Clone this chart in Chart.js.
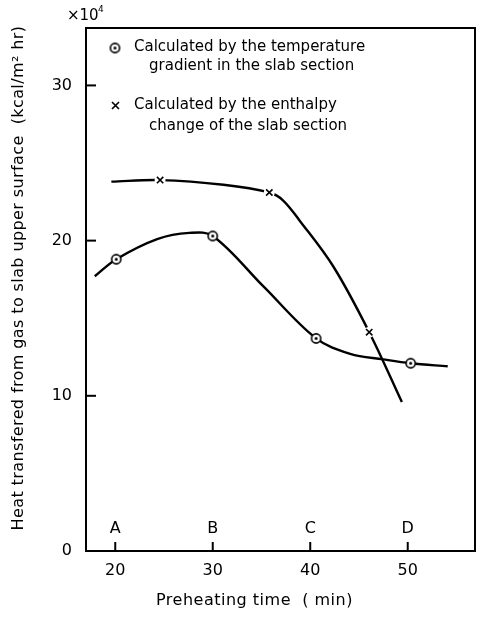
<!DOCTYPE html>
<html>
<head>
<meta charset="utf-8">
<script src="https://cdn.jsdelivr.net/npm/chart.js@4.4.1/dist/chart.umd.min.js"></script>
<style>
  html, body { margin: 0; padding: 0; background: #fff; }
</style>
</head>
<body>
<canvas id="chart" width="477" height="619"></canvas>
<script>
// values (heat in units of 10^4 kcal/m2 hr)
const stageLabels = ['A', 'B', 'C', 'D'];
const stageTimes = [20, 30, 40, 50];

// circles: from the temperature gradient in the slab section
const gradTimes = [20.1, 30.0, 40.6, 50.3];
const gradHeat = [18.8, 20.3, 13.7, 12.1];
// crosses: from the enthalpy change of the slab section
const enthTimes = [24.6, 35.8, 46.05];
const enthHeat = [23.9, 23.1, 14.1];

// hand drawn curves through the points
const gradCurveTimes = [17.9, 20.1, 24.3, 27.6, 30.0, 35.2, 40.6, 44.1, 47.5, 50.3, 54.1];
const gradCurveHeat = [17.7, 18.8, 20.1, 20.5, 20.3, 17.05, 13.7, 12.7, 12.35, 12.1, 11.9];
const enthCurveTimes = [19.6, 24.6, 31.1, 35.8, 37.2, 38.9, 42.4, 46.05, 49.4];
const enthCurveHeat = [23.8, 23.9, 23.6, 23.1, 22.6, 21.3, 18.3, 14.1, 9.6];

const FONT = '"DejaVu Sans", sans-serif';

const pts = (xs, ys) => xs.map((x, i) => ({ x: x, y: ys[i] }));

// ring with a dot in the middle, like the scan's marker
function ringMarker() {
  const c = document.createElement('canvas');
  c.width = 13; c.height = 13;
  const g = c.getContext('2d');
  g.fillStyle = '#fff';
  g.strokeStyle = '#000';
  g.lineWidth = 1.6;
  g.beginPath(); g.arc(6.5, 6.5, 4.6, 0, Math.PI * 2); g.fill(); g.stroke();
  g.fillStyle = '#000';
  g.beginPath(); g.arc(6.5, 6.5, 1.5, 0, Math.PI * 2); g.fill();
  return c;
}
const ring = ringMarker();

const decor = {
  id: 'decor',
  afterDraw(chart) {
    const ctx = chart.ctx;
    const a = chart.chartArea;
    const xs = chart.scales.x, ys = chart.scales.y;
    ctx.save();
    ctx.strokeStyle = '#000';
    ctx.fillStyle = '#000';
    ctx.lineWidth = 2;
    ctx.strokeRect(a.left, a.top, a.right - a.left, a.bottom - a.top);

    // inward ticks
    stageTimes.forEach(t => {
      const px = xs.getPixelForValue(t);
      ctx.beginPath(); ctx.moveTo(px, a.bottom); ctx.lineTo(px, a.bottom - 9); ctx.stroke();
    });
    [10, 20, 30].forEach(v => {
      const py = ys.getPixelForValue(v);
      ctx.beginPath(); ctx.moveTo(a.left, py); ctx.lineTo(a.left + 10, py); ctx.stroke();
    });

    ctx.font = '16px ' + FONT;
    ctx.textAlign = 'center';
    ctx.textBaseline = 'middle';
    stageLabels.forEach((s, i) => {
      ctx.fillText(s, xs.getPixelForValue(stageTimes[i]), a.bottom - 22);
    });

    // x10^4 multiplier
    ctx.textAlign = 'left';
    ctx.font = '15px ' + FONT;
    ctx.fillText('\u00d710', 67, 16);
    ctx.font = '9px ' + FONT;
    ctx.fillText('4', 98, 10);

    // legend
    ctx.font = '15px ' + FONT;
    ctx.drawImage(ring, 115 - 6.5, 48 - 6.5);
    ctx.fillText('Calculated by the temperature', 134, 47);
    ctx.fillText('gradient in the slab section', 149, 66);
    ctx.lineWidth = 1.6;
    ctx.beginPath();
    ctx.moveTo(112, 102); ctx.lineTo(119, 109);
    ctx.moveTo(119, 102); ctx.lineTo(112, 109);
    ctx.stroke();
    ctx.fillText('Calculated by the enthalpy', 134, 105);
    ctx.fillText('change of the slab section', 149, 126);

    // axis titles
    ctx.font = '16px ' + FONT;
    ctx.letterSpacing = '0.5px';
    ctx.fillText('Preheating time  ( min)', 156, 601);
    ctx.textAlign = 'center';
    ctx.translate(19, 278);
    ctx.rotate(-Math.PI / 2);
    ctx.letterSpacing = '0.4px';
    ctx.fillText('Heat transfered from gas to slab upper surface  (kcal/m\u00b2 hr)', 0, 0);
    ctx.restore();
  }
};

new Chart(document.getElementById('chart'), {
  type: 'scatter',
  data: {
    datasets: [
      {
        data: pts(gradTimes, gradHeat),
        pointStyle: ring,
        order: 1
      },
      {
        data: pts(enthTimes, enthHeat),
        pointStyle: 'crossRot',
        pointRadius: 4.5,
        borderColor: '#000',
        borderWidth: 1.6,
        order: 1
      },
      {
        data: pts(enthTimes, enthHeat),
        pointStyle: 'circle',
        pointRadius: 5.5,
        backgroundColor: '#fff',
        borderWidth: 0,
        order: 2
      },
      {
        type: 'line',
        data: pts(gradCurveTimes, gradCurveHeat),
        borderColor: '#000',
        borderWidth: 2.4,
        pointRadius: 0,
        tension: 0.35,
        fill: false,
        order: 3
      },
      {
        type: 'line',
        data: pts(enthCurveTimes, enthCurveHeat),
        borderColor: '#000',
        borderWidth: 2.4,
        pointRadius: 0,
        tension: 0.35,
        fill: false,
        order: 3
      }
    ]
  },
  options: {
    responsive: false,
    animation: false,
    devicePixelRatio: 1,
    layout: { autoPadding: false, padding: { left: 0, right: 2, top: 28, bottom: 0 } },
    plugins: { legend: { display: false }, tooltip: { enabled: false } },
    scales: {
      x: {
        type: 'linear',
        min: 17,
        max: 56.9,
        grid: { display: false, drawTicks: false },
        border: { display: false },
        ticks: {
          stepSize: 10,
          includeBounds: false,
          padding: 10,
          color: '#000',
          font: { family: FONT, size: 16 }
        },
        afterFit: s => { s.height = 68; }
      },
      y: {
        type: 'linear',
        min: 0,
        max: 33.7,
        grid: { display: false, drawTicks: false },
        border: { display: false },
        ticks: {
          stepSize: 10,
          includeBounds: false,
          padding: 14,
          color: '#000',
          font: { family: FONT, size: 16 }
        },
        afterFit: s => { s.width = 86; }
      }
    }
  },
  plugins: [decor]
});
</script>
</body>
</html>
